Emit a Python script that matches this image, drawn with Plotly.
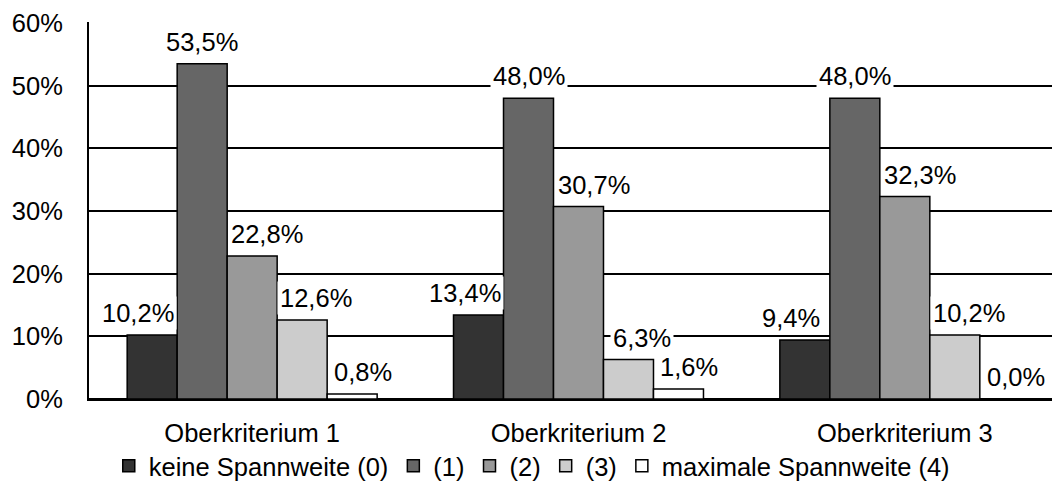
import plotly.graph_objects as go

categories = ["Oberkriterium 1", "Oberkriterium 2", "Oberkriterium 3"]
series_names = ["keine Spannweite (0)", "(1)", "(2)", "(3)", "maximale Spannweite (4)"]
s0 = [0.102, 0.134, 0.094]
s1 = [0.535, 0.480, 0.480]
s2 = [0.228, 0.307, 0.323]
s3 = [0.126, 0.063, 0.102]
s4 = [0.008, 0.016, 0.000]
y_ticks = [0, 0.1, 0.2, 0.3, 0.4, 0.5, 0.6]

series_values = [s0, s1, s2, s3, s4]
colors = ["#333333", "#666666", "#999999", "#cccccc", "#ffffff"]
label_xshift = [-14, 0, 15, 14, 11]

FONT = "Liberation Sans, Arial, sans-serif"
FS = 25.5
BARGAP = 0.234

xs = list(range(len(categories)))
fig = go.Figure()
for name, vals, col in zip(series_names, series_values, colors):
    fig.add_trace(go.Bar(
        x=xs, y=vals, name=name,
        marker=dict(color=col, line=dict(color="black", width=1.5)),
    ))

barw = (1 - BARGAP) / len(series_values)
n = len(series_values)
for i, vals in enumerate(series_values):
    for j, v in enumerate(vals):
        fig.add_annotation(
            x=xs[j] + (i - (n - 1) / 2) * barw, y=v,
            xref="x", yref="y",
            text=f"{v*100:.1f}%".replace(".", ","),
            showarrow=False, yanchor="bottom", xanchor="center",
            bgcolor="white", borderpad=2, yshift=5,
            xshift=label_xshift[i],
            font=dict(family=FONT, size=FS, color="black"),
        )

fig.update_layout(
    width=1052, height=481,
    margin=dict(l=81, r=0, t=14, b=90, autoexpand=False),
    paper_bgcolor="white", plot_bgcolor="white",
    barmode="group", bargap=BARGAP, bargroupgap=0,
    separators=",.",
    font=dict(family=FONT, size=FS, color="black"),
    showlegend=True,
    legend=dict(
        orientation="h", x=0.456, xanchor="center", y=-0.178, yanchor="middle",
        font=dict(family=FONT, size=FS, color="black"),
        itemwidth=30, traceorder="normal",
    ),
)
fig.update_xaxes(
    range=[-0.5, 2.4755], automargin=False,
    tickvals=xs, ticktext=categories,
    showgrid=False, showline=True, linecolor="black", linewidth=2,
    ticks="", ticklabelstandoff=10,
    tickfont=dict(family=FONT, size=FS, color="black"),
    zeroline=False,
)
fig.update_yaxes(
    range=[0, 0.6015], tickvals=y_ticks, tickformat=".0%", automargin=False,
    showgrid=True, gridcolor="black", gridwidth=2,
    showline=True, linecolor="black", linewidth=2,
    zeroline=True, zerolinecolor="black", zerolinewidth=2,
    ticks="", ticklabelstandoff=19,
    tickfont=dict(family=FONT, size=FS, color="black"),
)

fig.write_html("out.html")
